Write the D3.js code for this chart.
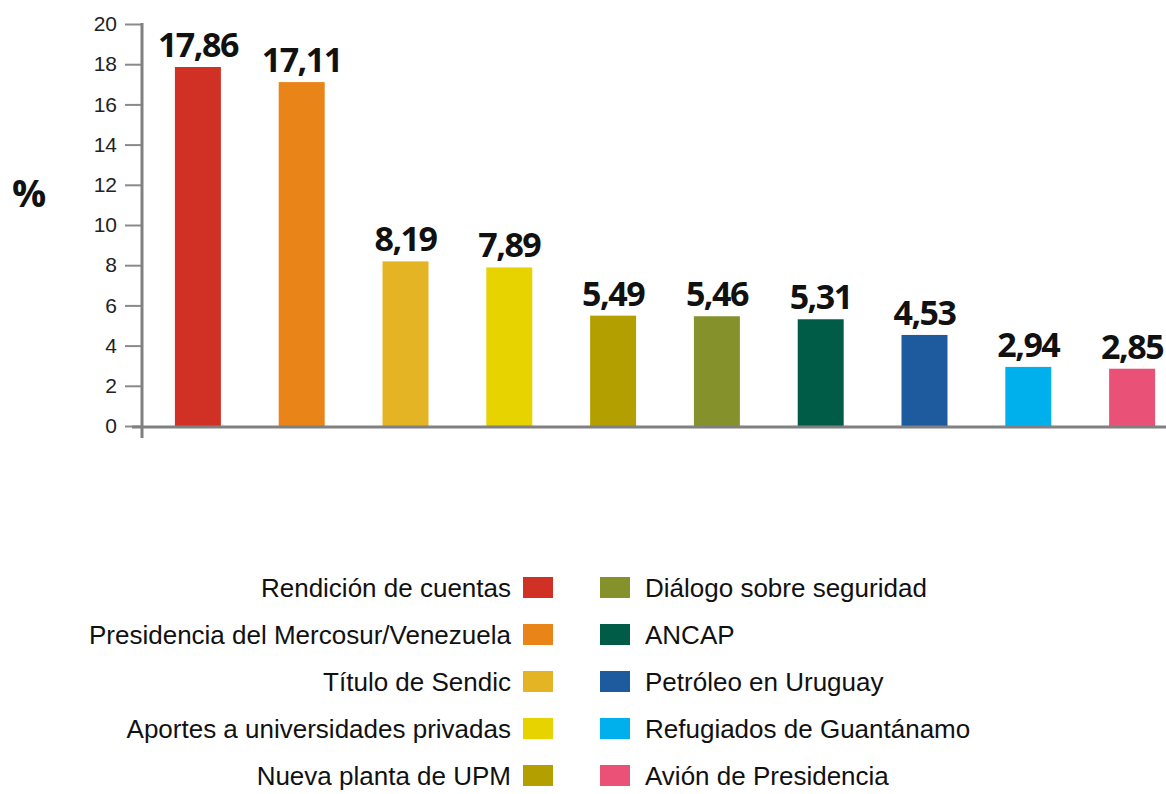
<!DOCTYPE html>
<html>
<head>
<meta charset="utf-8">
<script src="https://d3js.org/d3.v7.min.js"></script>
<style>
  body { margin: 0; background: #fff; }
  svg text { font-family: "Liberation Sans", Arial, sans-serif; }
</style>
</head>
<body>
<div id="chart"></div>
<script>
// data
const categories = [
  "Rendición de cuentas",
  "Presidencia del Mercosur/Venezuela",
  "Título de Sendic",
  "Aportes a universidades privadas",
  "Nueva planta de UPM",
  "Diálogo sobre seguridad",
  "ANCAP",
  "Petróleo en Uruguay",
  "Refugiados de Guantánamo",
  "Avión de Presidencia"
];
const values = [17.86, 17.11, 8.19, 7.89, 5.49, 5.46, 5.31, 4.53, 2.94, 2.85];
const barColors = ["#d13025", "#e88418", "#e4b424", "#e6d300", "#b3a000",
                   "#85922c", "#005c47", "#1d5a9e", "#00b0ec", "#e95177"];
const yTicks = [0, 2, 4, 6, 8, 10, 12, 14, 16, 18, 20];

const width = 1166, height = 794;
const svg = d3.select("#chart").append("svg")
  .attr("width", width)
  .attr("height", height);

const y = d3.scaleLinear().domain([0, 20]).range([426, 24]);
const x = d3.scaleBand()
  .domain(categories)
  .range([146, 1184])
  .paddingInner(0.557)
  .paddingOuter(0.2785);

const fmt = v => d3.format(".2f")(v).replace(".", ",");

// bars
svg.append("g")
  .selectAll("rect")
  .data(values)
  .join("rect")
  .attr("x", (d, i) => x(categories[i]))
  .attr("y", d => y(d))
  .attr("width", x.bandwidth())
  .attr("height", d => y(0) - y(d))
  .attr("fill", (d, i) => barColors[i]);

// value labels
svg.append("g")
  .selectAll("text")
  .data(values)
  .join("text")
  .attr("x", (d, i) => x(categories[i]) + x.bandwidth() / 2)
  .attr("y", d => y(d) - 10)
  .attr("text-anchor", "middle")
  .style("font-family", "'Open Sans', sans-serif")
  .style("font-weight", "700")
  .style("font-size", "34px")
  .style("letter-spacing", "-1.5px")
  .attr("fill", "#111")
  .text(d => fmt(d));

// y axis
const yAxis = svg.append("g")
  .attr("transform", "translate(142,0)")
  .call(d3.axisLeft(y).tickValues(yTicks).tickSize(17).tickPadding(8));
yAxis.select(".domain").remove();
yAxis.selectAll(".tick line").attr("stroke", "#8a8a8a").attr("stroke-width", 2);
yAxis.selectAll(".tick text")
  .attr("fill", "#222")
  .style("font-family", "'Liberation Sans', Arial, sans-serif")
  .style("font-size", "21px");

// axis lines
svg.append("line")
  .attr("x1", 142).attr("x2", 142)
  .attr("y1", y(20) - 1).attr("y2", 438)
  .attr("stroke", "#808080").attr("stroke-width", 3);
svg.append("line")
  .attr("x1", 132).attr("x2", width)
  .attr("y1", y(0) + 1).attr("y2", y(0) + 1)
  .attr("stroke", "#808080").attr("stroke-width", 3);

// % label
svg.append("text")
  .attr("x", 29).attr("y", 207)
  .attr("text-anchor", "middle")
  .style("font-family", "'Open Sans', sans-serif")
  .style("font-weight", "700")
  .style("font-size", "38px")
  .attr("fill", "#111")
  .text("%");

// legend (two columns of five)
const rowY = i => 588 + (i % 5) * 47;
const legend = svg.append("g");
const items = legend.selectAll("g")
  .data(categories)
  .join("g")
  .attr("transform", (d, i) => `translate(0,${rowY(i)})`);

items.append("rect")
  .attr("x", (d, i) => i < 5 ? 523 : 600)
  .attr("y", -11)
  .attr("width", 30)
  .attr("height", 21)
  .attr("fill", (d, i) => barColors[i]);

items.append("text")
  .attr("x", (d, i) => i < 5 ? 511 : 645)
  .attr("y", 0)
  .attr("dy", "0.35em")
  .attr("text-anchor", (d, i) => i < 5 ? "end" : "start")
  .style("font-size", "26px")
  .attr("fill", "#111")
  .text(d => d);
</script>
</body>
</html>
